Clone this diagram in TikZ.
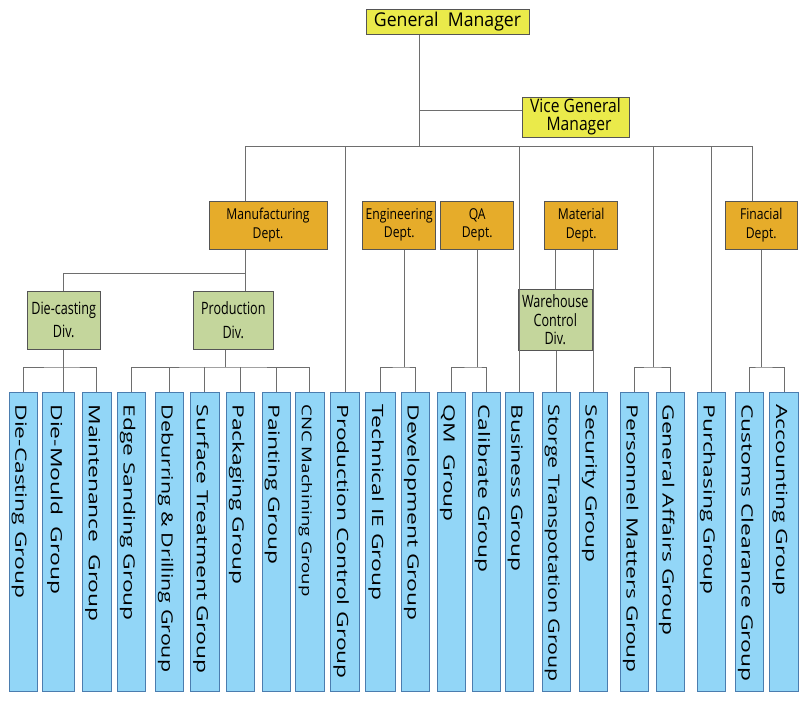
\documentclass[tikz,border=0pt]{standalone}
\usepackage{fontspec}
\setmainfont{Open Sans}
\newfontfamily\gmfont[FakeStretch=0.93]{Open Sans}
\newfontfamily\vgmfont[FakeStretch=0.84]{Open Sans}
\newfontfamily\deptfont[FakeStretch=0.81]{Open Sans}
\newfontfamily\divfont[FakeStretch=0.74]{Open Sans}
\newfontfamily\grpfont[FakeStretch=1.47]{Open Sans}
\newfontfamily\grpnarrowfont[FakeStretch=1.38]{Open Sans}
\definecolor{gmyellow}{RGB}{234,234,74}
\definecolor{deptorange}{RGB}{230,172,42}
\definecolor{divgreen}{RGB}{196,214,156}
\definecolor{grpblue}{RGB}{146,214,247}
\definecolor{grpedge}{RGB}{75,125,175}
\definecolor{boxedge}{RGB}{85,85,85}
\definecolor{linegray}{RGB}{110,110,110}
\newcommand{\grptext}[1]{\makebox[275pt][l]{#1}}
\begin{document}
\begin{tikzpicture}[x=1pt,y=-1pt,
  link/.style={draw=linegray,line width=1pt},
  mgrbox/.style={draw=boxedge,fill=gmyellow,line width=1pt,inner sep=0pt,align=center},
  deptbox/.style={draw=boxedge,fill=deptorange,line width=1pt,inner sep=0pt,
    minimum width=73pt,minimum height=48pt,align=center,
    font=\deptfont\fontsize{15}{18.3}\selectfont},
  divbox/.style={draw=boxedge,fill=divgreen,line width=1pt,inner sep=0pt,
    minimum height=58pt,align=center,font=\divfont\fontsize{17}{23.7}\selectfont},
  grpbox/.style={draw=grpedge,fill=grpblue,line width=1pt,rotate=-90,anchor=west,
    minimum height=28.5pt,inner xsep=12pt,inner ysep=0pt,
    text height=19.5pt,text depth=3.5pt,font=\grpfont\fontsize{15.5}{18}\selectfont}]
  \useasboundingbox (0,0) rectangle (808,702);

  % managers
  \node[mgrbox,minimum width=163pt,minimum height=25pt,
    font=\gmfont\fontsize{19}{21}\selectfont] (gm) at (447.5,21.7) {General\ \ Manager};
  \node[mgrbox,minimum width=107pt,minimum height=40pt,
    font=\vgmfont\fontsize{18.6}{18}\selectfont] (vgm) at (575.5,117) {Vice General\\\hspace*{7pt}Manager};

  % departments
  \node[deptbox,minimum width=118pt] (mfg) at (268,225) {Manufacturing\\Dept.};
  \node[deptbox] (eng) at (399.3,225) {Engineering\\Dept.};
  \node[deptbox] (qa) at (477.2,225) {QA\\Dept.};
  \node[deptbox] (mat) at (581.2,225) {Material\\Dept.};
  \node[deptbox,minimum width=72pt] (fin) at (761.2,225) {Finacial\\Dept.};

  % divisions
  \node[divbox,minimum width=73pt] (dcd) at (63.7,320) {Die-casting\\Div.};
  \node[divbox,minimum width=80pt] (prd) at (233.3,320) {Production\\Div.};
  \node[divbox,minimum width=74pt,minimum height=61pt,
    font=\divfont\fontsize{17}{18.3}\selectfont] (whc) at (555.3,319.8) {Warehouse\\Control\\Div.};

  % groups
  \node[grpbox] (g1) at (23.3,392) {\grptext{Die-Casting Group}};
  \node[grpbox,minimum height=32pt] (g2) at (58.8,392) {\grptext{Die-Mould\ \ Group}};
  \node[grpbox] (g3) at (96.8,392) {\grptext{Maintenance\ \ Group}};
  \node[grpbox] (g4) at (131.5,392) {\grptext{Edge Sanding Group}};
  \node[grpbox,font=\grpnarrowfont\fontsize{15.5}{18}\selectfont] (g5) at (169.5,392) {\grptext{Deburring \& Drilling Group}};
  \node[grpbox] (g6) at (204.8,392) {\grptext{Surface Treatment Group}};
  \node[grpbox] (g7) at (240.5,392) {\grptext{Packaging Group}};
  \node[grpbox] (g8) at (276.3,392) {\grptext{Painting Group}};
  \node[grpbox,font=\grpnarrowfont\fontsize{13.5}{16}\selectfont] (g9) at (309.8,392) {\grptext{CNC Machining Group}};
  \node[grpbox] (g10) at (345.2,392) {\grptext{Production Control Group}};
  \node[grpbox,minimum height=30pt] (g11) at (380,392) {\grptext{Technical IE Group}};
  \node[grpbox] (g12) at (415.7,392) {\grptext{Development Group}};
  \node[grpbox] (g13) at (451.5,392) {\grptext{QM\ \ Group}};
  \node[grpbox] (g14) at (486.3,392) {\grptext{Calibrate Group}};
  \node[grpbox] (g15) at (519.3,392) {\grptext{Business Group}};
  \node[grpbox,font=\grpnarrowfont\fontsize{15.5}{18}\selectfont] (g16) at (556.3,392) {\grptext{Storge Transpotation Group}};
  \node[grpbox] (g17) at (593.5,392) {\grptext{Security Group}};
  \node[grpbox] (g18) at (634.5,392) {\grptext{Personnel Matters Group}};
  \node[grpbox] (g19) at (670.5,392) {\grptext{General Affairs Group}};
  \node[grpbox] (g20) at (711.5,392) {\grptext{Purchasing Group}};
  \node[grpbox] (g21) at (749.7,392) {\grptext{Customs Clearance Group}};
  \node[grpbox] (g22) at (784.2,392) {\grptext{Accounting Group}};

  % top links
  \coordinate (hub) at (419,146);
  \coordinate (vgmjoin) at (419,110);
  \coordinate (busL) at (245,146);
  \coordinate (busR) at (752,146);
  \coordinate (hrjoin) at (653,146);
  \coordinate (gbus) at (0,367);
  \draw[link] (gm.south -| hub) -- (hub);
  \draw[link] (vgmjoin) -- (vgmjoin -| vgm.west);
  \draw[link] (busL) -- (busR);
  \draw[link] (busL) -- (busL |- mfg.north);
  \draw[link] (busR) -- (busR |- fin.north);
  \draw[link] (g10.west |- busL) -- (g10.west);
  \draw[link] (g15.west |- busL) -- (g15.west);
  \draw[link] (g20.west |- busL) -- (g20.west);
  \draw[link] (hrjoin) -- (hrjoin |- gbus);
  \draw[link] (g18.west) |- (hrjoin |- gbus) -| (g19.west);

  % manufacturing
  \coordinate (mfgout) at (busL |- mfg.south);
  \coordinate (mfgjoin) at (245,273);
  \draw[link] (mfgout) -- (mfgout |- prd.north);
  \draw[link] (mfgjoin) -| (dcd.north);
  \draw[link] (dcd.south) -- (dcd.south |- g2.west);
  \draw[link] (g1.west) |- (dcd.south |- gbus) -| (g3.west);
  \coordinate (prdout) at ([xshift=-7.5pt]prd.south);
  \draw[link] (prdout) -- (prdout |- gbus);
  \draw[link] (g4.west) |- (prdout |- gbus) -| (g9.west);
  \draw[link] (g5.west) -- (g5.west |- gbus);
  \draw[link] (g6.west) -- (g6.west |- gbus);
  \draw[link] (g7.west) -- (g7.west |- gbus);
  \draw[link] (g8.west) -- (g8.west |- gbus);

  % engineering, QA
  \coordinate (engout) at ([xshift=5pt]eng.south);
  \draw[link] (engout) -- (engout |- gbus);
  \draw[link] (g11.west) |- (engout |- gbus) -| (g12.west);
  \draw[link] (qa.south) -- (qa.south |- gbus);
  \draw[link] (g13.west) |- (qa.south |- gbus) -| (g14.west);

  % material
  \draw[link] (whc.north |- mat.south) -- (whc.north);
  \draw[link] (g17.west |- mat.south) -- (g17.west);
  \draw[link] (g16.west |- whc.south) -- (g16.west);

  % financial
  \draw[link] (fin.south) -- (fin.south |- gbus);
  \draw[link] (g21.west) |- (fin.south |- gbus) -| (g22.west);
\end{tikzpicture}
\end{document}
